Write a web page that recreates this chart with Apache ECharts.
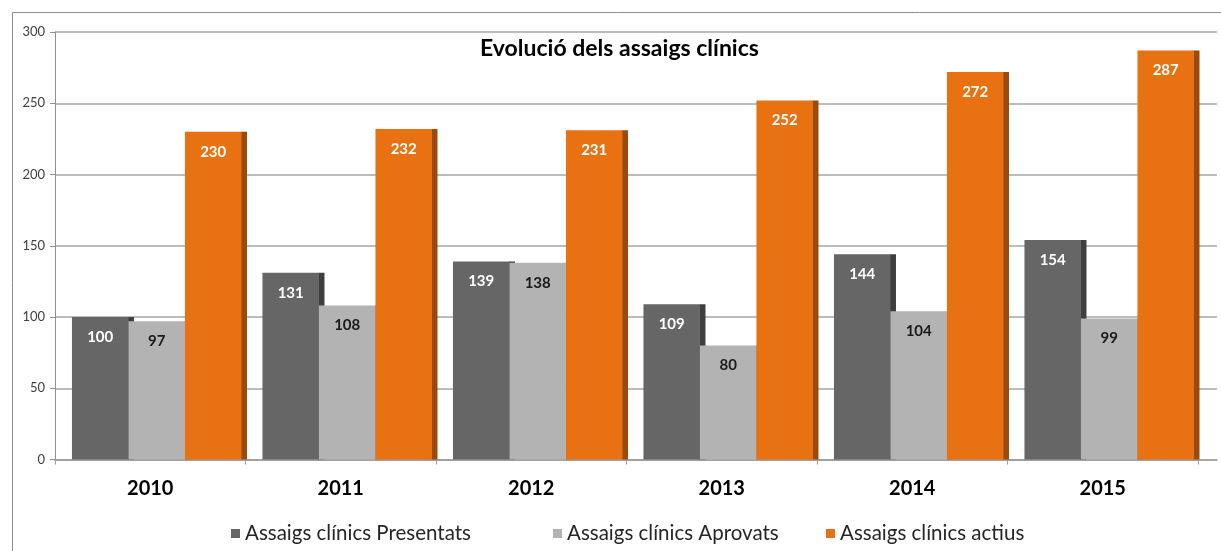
<!DOCTYPE html>
<html>
<head>
<meta charset="utf-8">
<script src="https://cdn.jsdelivr.net/npm/echarts@6/dist/echarts.min.js"></script>
<style>html,body{margin:0;padding:0;background:#fff;}#c{width:1221px;height:551px;}</style>
</head>
<body>
<div id="c"></div>
<script>
const categories = ['2010', '2011', '2012', '2013', '2014', '2015'];
const seriesNames = ['Assaigs clínics Presentats', 'Assaigs clínics Aprovats', 'Assaigs clínics actius'];
const presentats = [100, 131, 139, 109, 144, 154];
const aprovats = [97, 108, 138, 80, 104, 99];
const actius = [230, 232, 231, 252, 272, 287];
const yTicks = [0, 50, 100, 150, 200, 250, 300];

const FONT = 'Lato, "Open Sans", sans-serif';
const faceColors = ['#666666', '#b3b3b3', '#e87111'];
const sideColors = ['#3f3f3f', '#8c8c8c', '#9a4a0a'];
const labelColors = ['#ffffff', '#1a1a1a', '#ffffff'];

function makeRender(k) {
  return function (params, api) {
    const cat = api.value(0), v = api.value(1);
    const base = api.coord([cat, 0]);
    const top = api.coord([cat, v]);
    const band = api.size([1, 0])[0];
    const faceW = band * 0.2966;
    const sideW = band * 0.029;
    const x = base[0] - band / 2 + band * 0.089 + k * faceW;
    const h = base[1] - top[1];
    return {
      type: 'group',
      children: [
        { type: 'rect', shape: { x: x + faceW - 0.5, y: top[1], width: sideW + 0.5, height: h }, style: { fill: sideColors[k] } },
        { type: 'rect', shape: { x: x, y: top[1], width: faceW, height: h }, style: { fill: faceColors[k] } },
        { type: 'text', x: x + faceW / 2, y: top[1] + 20,
          style: { text: String(v), fill: labelColors[k], font: 'bold 15px ' + FONT, align: 'center', verticalAlign: 'middle' } }
      ]
    };
  };
}

const dataSets = [presentats, aprovats, actius];
const series = dataSets.map((arr, k) => ({
  type: 'custom',
  name: seriesNames[k],
  xAxisIndex: 1,
  yAxisIndex: 1,
  itemStyle: { color: faceColors[k] },
  renderItem: makeRender(k),
  encode: { x: 0, y: 1 },
  data: arr.map((v, i) => [i, v])
}));

const legendLeft = [231, 553, 826];
const legends = seriesNames.map((n, k) => ({
  data: [n],
  left: legendLeft[k],
  top: 523,
  padding: 0,
  icon: 'rect',
  itemWidth: 9,
  itemHeight: 9,
  itemGap: 6,
  selectedMode: false,
  textStyle: { fontFamily: FONT, fontSize: 20.5, color: '#262626', padding: [0, 0, 0, 0] }
}));

const chart = echarts.init(document.getElementById('c'), null, { renderer: 'canvas' });
chart.setOption({
  animation: false,
  backgroundColor: '#ffffff',
  title: {
    text: 'Evolució dels assaigs clínics',
    left: 480,
    top: 37,
    padding: 0,
    textStyle: { fontFamily: FONT, fontSize: 23, fontWeight: 'bold', color: '#000000' }
  },
  graphic: [{
    type: 'rect', left: 10, top: 10, shape: { width: 1300, height: 700 },
    style: { fill: 'none', stroke: '#8c8c8c', lineWidth: 1 }, silent: true, z: -10
  }],
  legend: legends,
  grid: [
    { left: 55, right: 4, top: 32, bottom: 91.5 },
    { left: 55, right: 23, top: 32, bottom: 91.5 }
  ],
  xAxis: [
    { type: 'category', gridIndex: 0, data: categories,
      axisLine: { show: true, lineStyle: { color: '#a0a0a0', width: 1.5 } },
      axisTick: { show: false }, axisLabel: { show: false }, splitLine: { show: false } },
    { type: 'category', gridIndex: 1, data: categories,
      axisLine: { show: true, lineStyle: { color: '#a0a0a0', width: 1.5 } },
      axisTick: { show: true, length: 5, lineStyle: { color: '#a0a0a0' } },
      axisLabel: { fontFamily: FONT, fontSize: 20, fontWeight: 'bold', color: '#000000', margin: 19 } }
  ],
  yAxis: [
    { type: 'value', gridIndex: 0, min: yTicks[0], max: yTicks[yTicks.length - 1], interval: 50,
      axisLine: { show: true, lineStyle: { color: '#909090', width: 1 } },
      axisTick: { show: true, length: 5, lineStyle: { color: '#909090' } },
      axisLabel: { fontFamily: FONT, fontSize: 13, color: '#404040', margin: 10 },
      splitLine: { show: true, lineStyle: { color: '#a6a6a6', width: 1.5 } } },
    { type: 'value', gridIndex: 1, min: yTicks[0], max: yTicks[yTicks.length - 1], interval: 50,
      show: false, splitLine: { show: false } }
  ],
  series: series
});
</script>
</body>
</html>
